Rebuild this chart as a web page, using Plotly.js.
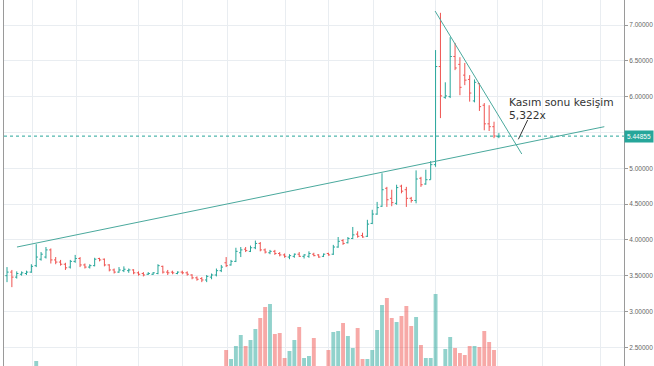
<!DOCTYPE html>
<html><head><meta charset="utf-8">
<script src="https://cdn.plot.ly/plotly-3.0.1.min.js"></script>
<style>html,body{margin:0;padding:0;background:#fff}#chart{width:654px;height:366px}</style>
</head><body><div id="chart"></div>
<script>
// weekly bars, index 0..101
const openP = [3.50,3.55,3.48,3.52,3.53,3.55,3.64,3.73,3.76,3.86,
3.72,3.69,3.66,3.62,3.70,3.74,3.65,3.62,3.64,3.74,
3.73,3.65,3.58,3.55,3.57,3.57,3.58,3.54,3.53,3.52,
3.52,3.53,3.63,3.55,3.55,3.53,3.55,3.54,3.51,3.47,
3.46,3.44,3.48,3.51,3.57,3.68,3.65,3.70,3.82,3.87,
3.84,3.89,3.95,3.86,3.82,3.84,3.81,3.79,3.76,3.77,
3.80,3.77,3.77,3.80,3.79,3.77,3.81,3.80,3.90,3.99,
3.96,4.02,4.08,4.06,4.05,4.23,4.36,4.47,4.72,4.58,
4.51,4.75,4.70,4.58,4.55,4.86,4.78,4.84,5.05,6.42,
5.99,6.00,6.56,6.45,6.30,6.24,5.94,6.18,5.88,5.62,
5.58,5.44];
const highP = [3.62,3.58,3.56,3.56,3.57,3.66,3.94,3.83,3.90,3.88,
3.76,3.72,3.68,3.72,3.79,3.76,3.67,3.66,3.75,3.75,
3.74,3.66,3.60,3.62,3.63,3.60,3.59,3.56,3.55,3.55,
3.55,3.66,3.64,3.58,3.57,3.56,3.57,3.56,3.52,3.49,
3.48,3.51,3.53,3.60,3.65,3.76,3.72,3.89,3.90,3.90,
3.92,3.99,3.97,3.88,3.86,3.86,3.83,3.81,3.80,3.81,
3.83,3.80,3.84,3.82,3.80,3.81,3.82,3.93,4.04,4.01,
4.04,4.18,4.12,4.10,4.28,4.42,4.53,4.93,4.74,4.70,
4.77,4.77,4.74,4.60,4.97,4.88,4.98,5.10,6.65,7.17,
6.20,6.83,6.75,6.55,6.47,6.30,6.24,6.19,5.91,5.88,
5.65,5.49];
const lowP = [3.41,3.34,3.46,3.50,3.51,3.54,3.62,3.71,3.74,3.67,
3.66,3.64,3.58,3.60,3.68,3.62,3.60,3.60,3.63,3.70,
3.63,3.56,3.53,3.54,3.55,3.54,3.52,3.50,3.49,3.51,
3.51,3.52,3.53,3.51,3.52,3.52,3.52,3.50,3.45,3.43,
3.41,3.41,3.45,3.49,3.55,3.62,3.64,3.69,3.76,3.83,
3.83,3.87,3.84,3.81,3.80,3.79,3.77,3.75,3.73,3.75,
3.76,3.74,3.75,3.77,3.75,3.76,3.78,3.79,3.89,3.93,
3.95,4.01,4.03,4.03,4.04,4.22,4.35,4.46,4.46,4.47,
4.49,4.65,4.46,4.52,4.51,4.74,4.77,4.84,5.02,5.70,
5.97,5.98,6.37,6.02,6.16,5.93,5.92,5.80,5.53,5.52,
5.42,5.42];
const closeP = [3.55,3.48,3.53,3.54,3.55,3.63,3.76,3.80,3.86,3.72,
3.69,3.66,3.61,3.70,3.74,3.65,3.62,3.64,3.73,3.72,
3.65,3.58,3.55,3.58,3.59,3.58,3.54,3.52,3.51,3.53,
3.54,3.64,3.55,3.54,3.54,3.55,3.54,3.52,3.47,3.45,
3.44,3.49,3.51,3.57,3.62,3.64,3.70,3.84,3.86,3.85,
3.89,3.95,3.86,3.83,3.84,3.81,3.79,3.77,3.78,3.80,
3.77,3.79,3.81,3.78,3.76,3.80,3.79,3.90,3.98,3.95,
4.02,4.07,4.05,4.04,4.22,4.36,4.45,4.70,4.56,4.52,
4.73,4.68,4.58,4.55,4.85,4.77,4.84,5.05,6.42,6.01,
6.01,6.56,6.40,6.13,6.23,6.05,6.20,5.86,5.62,5.58,
5.45,5.44855];
const volume = [90,85,70,75,72,95,125,100,95,88,
80,75,70,82,78,74,68,72,80,76,
70,78,74,66,70,72,68,75,70,64,
66,90,84,72,68,70,73,76,88,80,
85,92,86,95,110,136,127,140,151,140,
146,157,168,179,182,152,153,128,135,146,
159,128,130,148,105,100,136,154,155,163,
150,138,158,127,127,136,156,181,188,168,
164,170,180,160,169,141,128,128,192,110,
137,149,138,133,131,140,140,139,155,144,
136,100];
const lastPrice = 5.44855;
const priceTicks = [2.5,3.0,3.5,4.0,4.5,5.0,5.5,6.0,6.5,7.0];
// 5.5 label is hidden behind the last-price tag
const priceTickText = ['2.50000','3.00000','3.50000','4.00000','4.50000','5.00000','','6.00000','6.50000','7.00000'];
const timeGrid = [5.3,14.2,27.1,36.1,45.2,57.1,66.1,75.2,87.9,100.8,109.9,121.8];
// drawn trend lines (index, price)
const upTrendX = [2.05,122.65], upTrendY = [3.900,5.580];
const downTrendX = [87.9,105.7], downTrendY = [7.195,5.199];
const pointerX = [106.9,105.0], pointerY = [5.673,5.404];
const noteLines = ["Kasım sonu kesişim","5,322x"];
const noteX = 102.9, noteY = [5.918,5.736];

const idx = openP.map((_,i)=>i);
const UP='#26a69a', DOWN='#ef5350';
const volColors = idx.map(i => closeP[i] >= openP[i] ? 'rgba(38,166,154,0.5)' : 'rgba(239,83,80,0.5)');
const xr = [-0.616,126.69];

const traces = [
 {type:'bar', x:idx, y:volume, yaxis:'y2', marker:{color:volColors, line:{width:0}}, width:0.8, hoverinfo:'skip', showlegend:false},
 {type:'scatter', mode:'lines', x:xr, y:[lastPrice,lastPrice], line:{color:'#26a69a', width:1, dash:'dot'}, hoverinfo:'skip', showlegend:false},
 {type:'ohlc', x:idx, open:openP, high:highP, low:lowP, close:closeP, tickwidth:0.35,
  increasing:{line:{color:UP, width:1}}, decreasing:{line:{color:DOWN, width:1}}, hoverinfo:'skip', showlegend:false},
 {type:'scatter', mode:'lines', x:upTrendX, y:upTrendY, line:{color:'#4aa99d', width:1}, hoverinfo:'skip', showlegend:false},
 {type:'scatter', mode:'lines', x:downTrendX, y:downTrendY, line:{color:'#4aa99d', width:1}, hoverinfo:'skip', showlegend:false},
 {type:'scatter', mode:'lines', x:pointerX, y:pointerY, line:{color:'#333', width:1}, hoverinfo:'skip', showlegend:false}
];

const noteFont = {family:'DejaVu Sans, sans-serif', size:10.7, color:'#333'};
const layout = {
 width:654, height:366, margin:{l:4, r:30, t:0, b:0}, paper_bgcolor:'#fff', plot_bgcolor:'#fff',
 showlegend:false,
 xaxis:{range:xr, tickvals:timeGrid, showticklabels:false, ticks:'', showgrid:true, gridcolor:'#e9edf1', gridwidth:1,
        zeroline:false, showline:false, rangeslider:{visible:false}, fixedrange:true},
 yaxis:{range:[2.239,7.349], side:'right', tickvals:priceTicks, ticktext:priceTickText, showgrid:true, gridcolor:'#e9edf1',
        zeroline:false, showline:true, mirror:true, linecolor:'#9a9a9a', linewidth:1, ticks:'outside', ticklen:3, tickcolor:'#9a9a9a',
        tickfont:{family:'Liberation Sans, Arial, sans-serif', size:6.5, color:'#666'}, fixedrange:true},
 yaxis2:{overlaying:'y', range:[120,486], visible:false, fixedrange:true},
 annotations:[
  {xref:'paper', x:1, xanchor:'left', yref:'y', y:lastPrice, yanchor:'middle', text:'5.44855', showarrow:false,
   bgcolor:'#26a69a', borderpad:2, font:{family:'Liberation Sans, Arial, sans-serif', size:6.5, color:'#fff'}},
  {xref:'x', x:noteX, xanchor:'left', yref:'y', y:noteY[0], yanchor:'middle', text:noteLines[0], showarrow:false, borderpad:0, font:noteFont},
  {xref:'x', x:noteX, xanchor:'left', yref:'y', y:noteY[1], yanchor:'middle', text:noteLines[1], showarrow:false, borderpad:0, font:noteFont}
 ]
};
Plotly.newPlot('chart', traces, layout, {displayModeBar:false, staticPlot:true});
</script></body></html>
